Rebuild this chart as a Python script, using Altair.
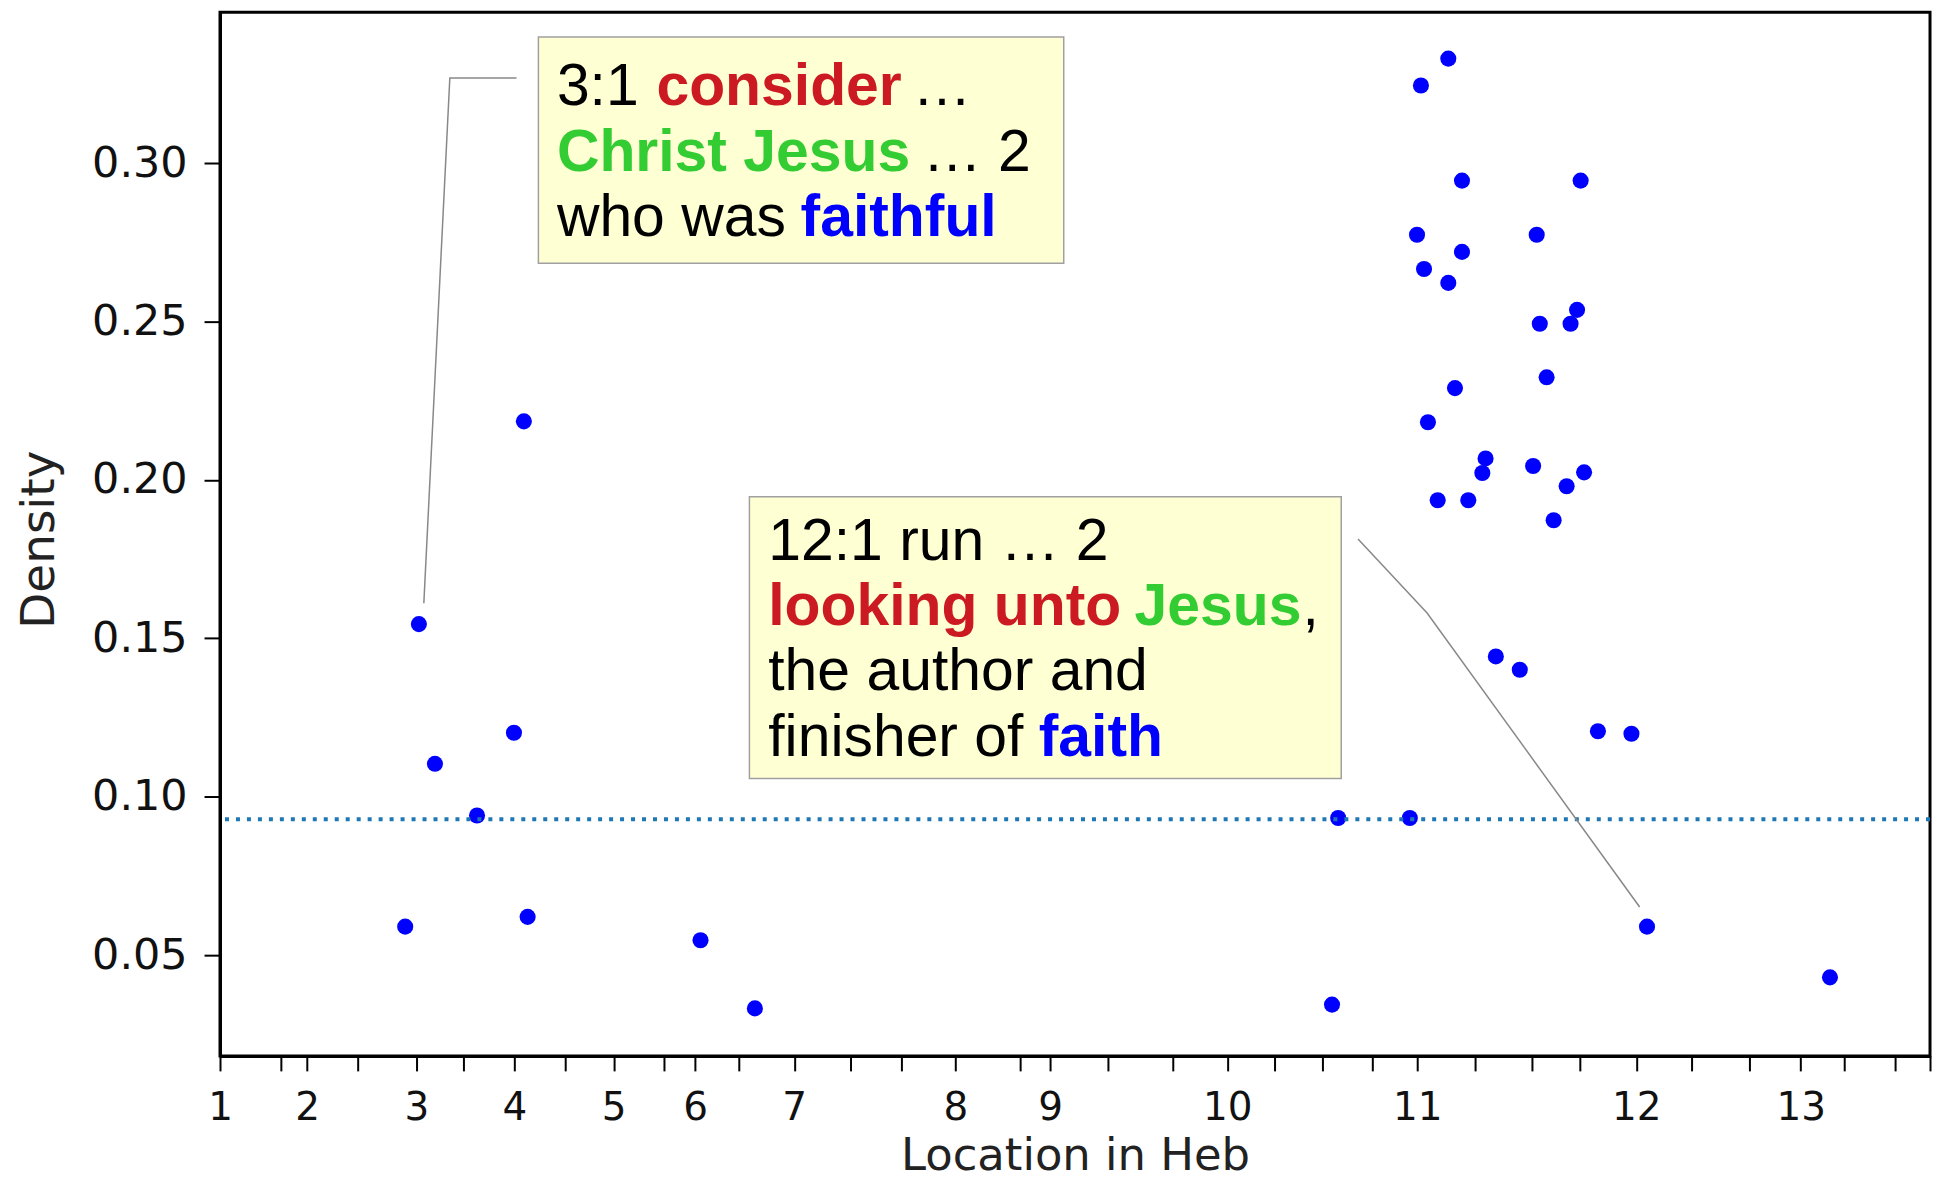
import altair as alt
import pandas as pd

# ---------------- data ----------------
chapter_labels = [str(i) for i in range(1, 14)]
chapter_starts = [0, 51.0, 114.8, 172.2, 230.2, 277.8, 335.8, 430.1, 485.5, 589.0, 700.2, 828.2, 924.4]
minor_ticks = [35.3, 80.8, 142.6, 202.0, 259.7, 303.1, 368.8, 398.4, 468.0, 519.4, 556.9,
               616.8, 644.8, 674.1, 733.8, 767.5, 795.5, 860.8, 894.6, 950.0, 979.8, 1000]

location = [108.3, 116.3, 125.7, 150.3, 171.9, 177.7, 179.9, 281.0, 312.8,
            650.3, 653.9, 695.8,
            700.0, 702.3, 704.1, 706.4, 712.1, 718.3, 718.3, 722.2, 726.3, 726.3,
            730.0, 738.2, 740.1, 746.1, 760.1, 767.9, 770.0, 771.8, 775.8, 779.9,
            787.5, 789.8, 793.6, 795.7, 797.7, 805.8, 825.4, 834.5, 941.5]
density = [0.0590, 0.1545, 0.1104, 0.0941, 0.1202, 0.2185, 0.0621, 0.0547, 0.0332,
           0.0344, 0.0933, 0.0933,
           0.2774, 0.3245, 0.2666, 0.2182, 0.1936, 0.3330, 0.2622, 0.2290, 0.2945, 0.2720,
           0.1936, 0.2022, 0.2068, 0.1443, 0.1401, 0.2044, 0.2774, 0.2493, 0.2324, 0.1873,
           0.1980, 0.2493, 0.2537, 0.2945, 0.2024, 0.1207, 0.1199, 0.0590, 0.0430]

baseline_density = 0.0929

leader_id = [1, 1, 1, 2, 2, 2]
leader_order = [0, 1, 2, 0, 1, 2]
leader_x = [119.2, 134.4, 173.4, 665.5, 705.9, 830.2]
leader_y = [0.1611, 0.3269, 0.3269, 0.1814, 0.1580, 0.0652]

box_x = [186.2, 309.6]
box_x2 = [493.4, 655.7]
box_y = [0.3398, 0.1947]
box_y2 = [0.2684, 0.1058]

RED, GREEN, BLUE, BLACK = "#cc1a22", "#33cc33", "#0000ff", "#000000"
seg_text = ["3:1", "consider", "…", "Christ Jesus", "… 2", "who was", "faithful",
            "12:1 run … 2", "looking unto", "Jesus", ",", "the author and", "finisher of", "faith"]
seg_x = [197.0, 255.2, 405.0, 197.0, 411.0, 197.0, 339.5,
         320.6, 320.6, 534.8, 633.0, 320.6, 320.6, 478.8]
seg_y = [0.3183, 0.3183, 0.3183, 0.2976, 0.2976, 0.2771, 0.2771,
         0.1747, 0.1543, 0.1543, 0.1543, 0.1338, 0.1128, 0.1128]
seg_color = [BLACK, RED, BLACK, GREEN, BLACK, BLACK, BLUE,
             BLACK, RED, GREEN, BLACK, BLACK, BLACK, BLUE]
seg_bold = [False, True, False, True, False, False, True,
            False, True, True, False, False, False, True]

# ---------------- tables ----------------
pts = pd.DataFrame({"loc": location, "density": density})
leaders = pd.DataFrame({"id": leader_id, "o": leader_order, "loc": leader_x, "density": leader_y})
boxes = pd.DataFrame({"x": box_x, "x2": box_x2, "y": box_y, "y2": box_y2})
segs = pd.DataFrame({"text": seg_text, "loc": seg_x, "density": seg_y,
                     "color": seg_color, "bold": seg_bold})
base_df = pd.DataFrame({"density": [baseline_density]})

all_ticks = sorted(chapter_starts + minor_ticks)
arr = "[" + ",".join(repr(v) for v in chapter_starts) + "]"
lab = "[" + ",".join("'" + s + "'" for s in chapter_labels) + "]"
label_expr = f"indexof({arr}, datum.value) >= 0 ? {lab}[indexof({arr}, datum.value)] : ''"

xscale = alt.Scale(domain=[0, 1000], nice=False, zero=False)
yscale = alt.Scale(domain=[0.0182, 0.3476], nice=False, zero=False)

xaxis = alt.Axis(values=all_ticks, labelExpr=label_expr, labelOverlap=False, labelFlush=False,
                 labelBound=False, tickSize=15, tickWidth=2, tickColor="black",
                 domainColor="black", domainWidth=3, labelFontSize=39, labelFont="DejaVu Sans",
                 labelColor="#111111", labelPadding=18, title="Location in Heb",
                 titleFontSize=45, titleFont="DejaVu Sans", titleFontWeight="normal",
                 titleColor="#222222", titleY=114, titleBaseline="alphabetic", grid=False)
yaxis = alt.Axis(values=[0.05, 0.10, 0.15, 0.20, 0.25, 0.30], format=".2f", tickSize=16,
                 tickWidth=2, tickColor="black", domainColor="black", domainWidth=3,
                 labelFontSize=43, labelFont="DejaVu Sans", labelColor="#111111",
                 labelPadding=17, title="Density", titleFontSize=47, titleFont="DejaVu Sans",
                 titleFontWeight="normal", titleColor="#222222", titleX=-167, titleY=528,
                 titleAngle=270, titleAlign="center", titleBaseline="alphabetic", grid=False)

X = alt.X("loc:Q", scale=xscale, axis=xaxis)
Y = alt.Y("density:Q", scale=yscale, axis=yaxis)

rule = alt.Chart(base_df).mark_rule(color="#1f77b4", strokeWidth=4, strokeDash=[4, 7]).encode(
    y=alt.Y("density:Q", scale=yscale))

lead = alt.Chart(leaders).mark_line(color="#888888", strokeWidth=1.5).encode(
    x=alt.X("loc:Q", scale=xscale), y=alt.Y("density:Q", scale=yscale),
    detail="id:N", order="o:Q")

box = alt.Chart(boxes).mark_rect(fill="#ffffd4", stroke="#a0a0a0", strokeWidth=1.5).encode(
    x=alt.X("x:Q", scale=xscale), x2="x2:Q", y=alt.Y("y:Q", scale=yscale), y2="y2:Q")

txt_reg = alt.Chart(segs).transform_filter("!datum.bold").mark_text(
    font="Liberation Sans", fontSize=59, align="left", baseline="alphabetic").encode(
    x=alt.X("loc:Q", scale=xscale), y=alt.Y("density:Q", scale=yscale),
    text="text:N", color=alt.Color("color:N", scale=None))
txt_bold = alt.Chart(segs).transform_filter("datum.bold").mark_text(
    font="Liberation Sans", fontSize=59, fontWeight="bold", align="left",
    baseline="alphabetic").encode(
    x=alt.X("loc:Q", scale=xscale), y=alt.Y("density:Q", scale=yscale),
    text="text:N", color=alt.Color("color:N", scale=None))

points = alt.Chart(pts).mark_circle(size=260, color="#0000ff", opacity=1).encode(x=X, y=Y)

chart = alt.layer(points, rule, lead, box, txt_reg, txt_bold).properties(
    width=1714, height=1046,
    autosize=alt.AutoSizeParams(type="none"),
    padding={"left": 212.5, "top": 3, "right": 4, "bottom": 125},
).configure_view(stroke="black", strokeWidth=3)

chart.save("out.html", embed_options={"renderer": "svg", "actions": False})
